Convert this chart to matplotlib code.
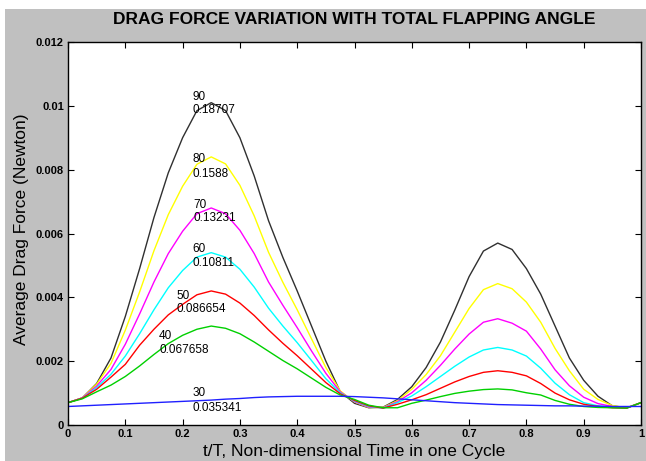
import numpy as np
import matplotlib
matplotlib.use('Agg')
import matplotlib.pyplot as plt
from matplotlib.patches import Rectangle

plt.rcParams['font.family'] = ['Liberation Sans', 'DejaVu Sans']

# non-dimensional time t/T
t = np.linspace(0, 1, 41)

# average drag force (N) for each total flapping angle
drag_90 = [0.00070, 0.00085, 0.00130, 0.00210, 0.00340, 0.00490, 0.00650, 0.00790, 0.00900, 0.00985,
           0.01010, 0.00985, 0.00900, 0.00780, 0.00640, 0.00525, 0.00420, 0.00310, 0.00200, 0.00105,
           0.00068, 0.00054, 0.00056, 0.00080, 0.00120, 0.00180, 0.00260, 0.00360, 0.00465, 0.00545,
           0.00570, 0.00550, 0.00490, 0.00410, 0.00310, 0.00210, 0.00140, 0.00090, 0.00060, 0.00054,
           0.00070]
drag_80 = [0.00070, 0.00085, 0.00128, 0.00193, 0.00297, 0.00417, 0.00546, 0.00659, 0.00748, 0.00817,
           0.00840, 0.00818, 0.00751, 0.00655, 0.00541, 0.00447, 0.00361, 0.00270, 0.00180, 0.00107,
           0.00072, 0.00055, 0.00055, 0.00076, 0.00112, 0.00158, 0.00217, 0.00291, 0.00365, 0.00424,
           0.00443, 0.00427, 0.00385, 0.00322, 0.00240, 0.00170, 0.00112, 0.00080, 0.00061, 0.00054,
           0.00070]
drag_70 = [0.00070, 0.00085, 0.00122, 0.00174, 0.00253, 0.00348, 0.00448, 0.00537, 0.00607, 0.00662,
           0.00680, 0.00662, 0.00610, 0.00537, 0.00448, 0.00375, 0.00305, 0.00232, 0.00162, 0.00104,
           0.00073, 0.00056, 0.00054, 0.00073, 0.00101, 0.00140, 0.00187, 0.00238, 0.00285, 0.00322,
           0.00333, 0.00319, 0.00294, 0.00238, 0.00173, 0.00123, 0.00087, 0.00067, 0.00058, 0.00053,
           0.00070]
drag_60 = [0.00070, 0.00084, 0.00117, 0.00159, 0.00216, 0.00286, 0.00361, 0.00430, 0.00484, 0.00526,
           0.00540, 0.00526, 0.00488, 0.00432, 0.00366, 0.00310, 0.00258, 0.00202, 0.00145, 0.00101,
           0.00075, 0.00058, 0.00053, 0.00070, 0.00091, 0.00120, 0.00152, 0.00184, 0.00213, 0.00235,
           0.00243, 0.00235, 0.00216, 0.00178, 0.00131, 0.00095, 0.00070, 0.00060, 0.00055, 0.00053,
           0.00070]
drag_50 = [0.00070, 0.00084, 0.00112, 0.00150, 0.00190, 0.00250, 0.00300, 0.00345, 0.00378, 0.00408,
           0.00420, 0.00410, 0.00382, 0.00343, 0.00298, 0.00256, 0.00217, 0.00175, 0.00133, 0.00098,
           0.00077, 0.00060, 0.00053, 0.00065, 0.00079, 0.00095, 0.00115, 0.00135, 0.00152, 0.00165,
           0.00170, 0.00165, 0.00154, 0.00130, 0.00100, 0.00079, 0.00065, 0.00058, 0.00054, 0.00053,
           0.00070]
drag_40 = [0.00070, 0.00082, 0.00104, 0.00125, 0.00152, 0.00185, 0.00221, 0.00255, 0.00281, 0.00300,
           0.00310, 0.00303, 0.00286, 0.00260, 0.00231, 0.00202, 0.00176, 0.00147, 0.00118, 0.00094,
           0.00080, 0.00062, 0.00054, 0.00054, 0.00068, 0.00078, 0.00089, 0.00099, 0.00106, 0.00111,
           0.00113, 0.00110, 0.00101, 0.00094, 0.00077, 0.00065, 0.00058, 0.00055, 0.00054, 0.00053,
           0.00070]
drag_30 = [0.00058, 0.00060, 0.00062, 0.00064, 0.00066, 0.00068, 0.00070, 0.00072, 0.00074, 0.00076,
           0.00078, 0.00081, 0.00083, 0.00086, 0.00088, 0.00089, 0.00090, 0.00090, 0.00090, 0.00090,
           0.00089, 0.00087, 0.00085, 0.00082, 0.00079, 0.00076, 0.00073, 0.00070, 0.00068, 0.00066,
           0.00064, 0.00063, 0.00062, 0.00061, 0.00060, 0.00060, 0.00059, 0.00059, 0.00058, 0.00058,
           0.00058]

angles = ['90', '80', '70', '60', '50', '40', '30']
coeffs = ['0.18707', '0.1588', '0.13231', '0.10811', '0.086654', '0.067658', '0.035341']
series = [drag_90, drag_80, drag_70, drag_60, drag_50, drag_40, drag_30]
colors = ['#303030', '#ffff00', '#ff00ff', '#00ffff', '#ff0000', '#00d000', '#2020ff']

# where the two-line labels sit (x, y of angle line, y of coefficient line)
lab_x = [0.217, 0.217, 0.219, 0.217, 0.190, 0.159, 0.218]
lab_y1 = [0.01028, 0.00834, 0.00690, 0.00552, 0.00404, 0.00279, 0.00100]
lab_y2 = [0.00987, 0.00787, 0.00649, 0.00508, 0.00364, 0.00235, 0.00053]

xticks = [0, 0.1, 0.2, 0.3, 0.4, 0.5, 0.6, 0.7, 0.8, 0.9, 1]
xticklabels = ['0', '0.1', '0.2', '0.3', '0.4', '0.5', '0.6', '0.7', '0.8', '0.9', '1']
yticks = [0, 0.002, 0.004, 0.006, 0.008, 0.01, 0.012]
yticklabels = ['0', '0.002', '0.004', '0.006', '0.008', '0.01', '0.012']

W, H = 646, 461
fig = plt.figure(figsize=(W / 100, H / 100), dpi=100, facecolor='white')
# grey MATLAB-style panel behind the axes
fig.patches.append(Rectangle((5 / W, 0), 1 - 5 / W, (H - 9) / H, transform=fig.transFigure,
                             facecolor='#c0c0c0', edgecolor='none', zorder=-10))

ax = fig.add_axes([68 / W, (H - 425) / H, (641 - 68) / W, (425 - 42) / H])
ax.set_zorder(1)
ax.set_facecolor('white')

for y, c in zip(series, colors):
    ax.plot(t, y, color=c, linewidth=1.0)

for i in range(len(angles)):
    ax.text(lab_x[i], lab_y1[i], angles[i], fontsize=8.5, va='center', ha='left')
    ax.text(lab_x[i], lab_y2[i], coeffs[i], fontsize=8.5, va='center', ha='left')

ax.set_xlim(0, 1)
ax.set_ylim(0, 0.012)
ax.set_xticks(xticks)
ax.set_xticklabels(xticklabels, fontsize=8, fontweight='bold')
ax.set_yticks(yticks)
ax.set_yticklabels(yticklabels, fontsize=8, fontweight='bold')
ax.tick_params(direction='in', length=4, width=0.8, top=True, right=True, pad=3)
for s in ax.spines.values():
    s.set_linewidth(1.0)

fig.text(354.5 / W, 1 - 20 / H, 'DRAG FORCE VARIATION WITH TOTAL FLAPPING ANGLE',
         fontsize=12.5, fontweight='bold', ha='center', va='center')
fig.text(354.5 / W, 1 - 451 / H, 't/T, Non-dimensional Time in one Cycle',
         fontsize=12.5, ha='center', va='center')
fig.text(22 / W, 1 - 229 / H, 'Average Drag Force (Newton)',
         fontsize=12.5, rotation=90, ha='center', va='center')

fig.savefig('out.png', dpi=100, facecolor=fig.get_facecolor())
